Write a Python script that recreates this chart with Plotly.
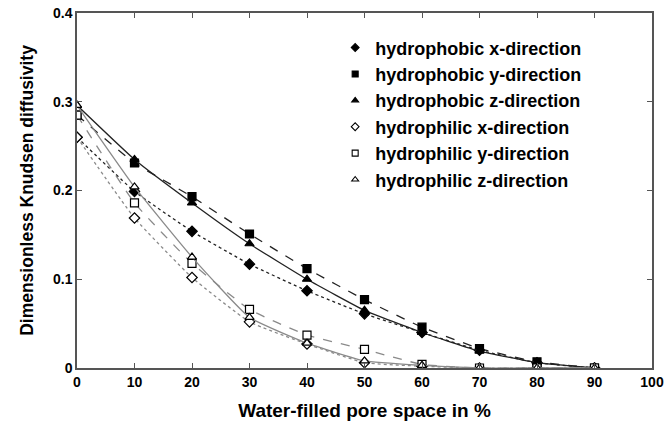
import plotly.graph_objects as go

water = [0, 10, 20, 30, 40, 50, 60, 70, 80, 90]

phobic_x = [0.260, 0.199, 0.154, 0.117, 0.087, 0.061, 0.040, 0.020, 0.006, 0.0]
phobic_y = [0.285, 0.231, 0.193, 0.151, 0.112, 0.077, 0.046, 0.022, 0.007, 0.0]
phobic_z = [0.296, 0.235, 0.186, 0.140, 0.100, 0.065, 0.040, 0.019, 0.006, 0.0]
philic_x = [0.260, 0.169, 0.102, 0.052, 0.027, 0.006, 0.002, 0.0, 0.0, 0.0]
philic_y = [0.285, 0.186, 0.118, 0.066, 0.037, 0.021, 0.004, 0.0, 0.0, 0.0]
philic_z = [0.296, 0.204, 0.125, 0.057, 0.028, 0.008, 0.003, 0.0, 0.0, 0.0]

names = ["hydrophobic x-direction", "hydrophobic y-direction", "hydrophobic z-direction",
         "hydrophilic x-direction", "hydrophilic y-direction", "hydrophilic z-direction"]

series = [phobic_x, phobic_y, phobic_z, philic_x, philic_y, philic_z]
symbols = ["diamond", "square", "triangle-up", "diamond", "square", "triangle-up"]
fills = ["black", "black", "black", "white", "white", "white"]
dashes = ["dot", "dash", "solid", "dot", "dash", "solid"]
line_colors = ["#222222", "#222222", "#222222", "#8a8a8a", "#8a8a8a", "#8a8a8a"]

FONT = "Arial, Liberation Sans, sans-serif"

fig = go.Figure()
for vals, sym, fc, dash, lc in zip(series, symbols, fills, dashes, line_colors):
    fig.add_trace(go.Scatter(
        x=water, y=vals, mode="lines+markers", showlegend=False,
        line=dict(color=lc, width=1.3, dash=dash, shape="spline", smoothing=0.4),
        marker=dict(symbol=sym, size=8, color=fc, line=dict(color="black", width=1.2)),
    ))

# legend-only entries (marker only, as in the reference)
for name, sym, fc in zip(names, symbols, fills):
    fig.add_trace(go.Scatter(
        x=[None], y=[None], mode="markers", name=name,
        marker=dict(symbol=sym, size=6, color=fc, line=dict(color="black", width=1.1)),
    ))

fig.update_layout(
    width=665, height=428,
    margin=dict(l=77, r=13, t=13, b=60),
    paper_bgcolor="white", plot_bgcolor="white",
    font=dict(family=FONT, color="black"),
    legend=dict(x=0.449, y=0.954, xanchor="left", yanchor="top",
                font=dict(family=FONT, size=18, weight="bold"),
                bgcolor="rgba(0,0,0,0)", itemwidth=30,
                traceorder="normal", itemsizing="trace"),
)
fig.update_xaxes(
    range=[0, 100], tickvals=[0, 10, 20, 30, 40, 50, 60, 70, 80, 90, 100],
    automargin=False,
    showline=True, linecolor="#555555", linewidth=1.5, mirror="ticks",
    ticks="inside", ticklen=5, tickcolor="#555555", showgrid=False, zeroline=False,
    tickfont=dict(family=FONT, size=14, weight="bold"),
    title=dict(text="Water-filled pore space in %",
               font=dict(family=FONT, size=19, weight="bold")),
)
fig.update_yaxes(
    range=[0, 0.4], tickvals=[0, 0.1, 0.2, 0.3, 0.4], ticktext=["0", "0.1", "0.2", "0.3", "0.4"],
    automargin=False,
    showline=True, linecolor="#555555", linewidth=1.5, mirror="ticks",
    ticks="inside", ticklen=5, tickcolor="#555555", showgrid=False, zeroline=False,
    tickfont=dict(family=FONT, size=14, weight="bold"),
    title=dict(text="Dimensionless Knudsen diffusivity",
               font=dict(family=FONT, size=17.5, weight="bold")),
)

fig.write_html("out.html", config={"displayModeBar": False},
               post_script="document.body.style.margin='0';document.body.style.overflow='hidden';")
